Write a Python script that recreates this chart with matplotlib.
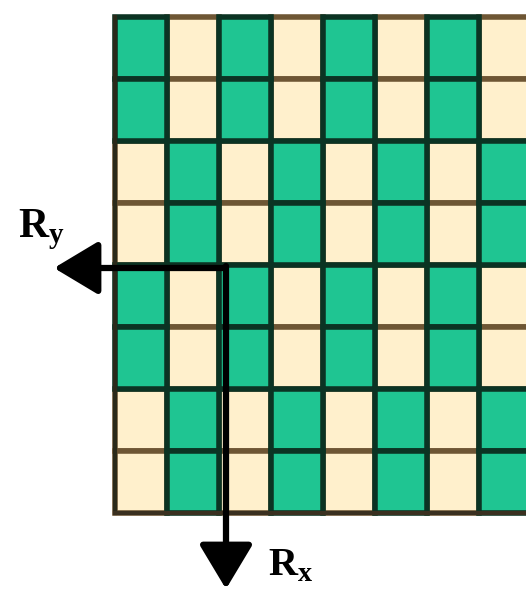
import numpy as np
import matplotlib.pyplot as plt
from matplotlib.patches import Rectangle

# grid pattern: 1 = row starts with green cell, 0 = starts with cream
row_start = [1, 1, 0, 0, 1, 1, 0, 0]
n_cols = 8
green = '#1fc592'
cream = '#fff0cc'
green_edge = '#0b3323'
cream_edge = '#6e5634'

fig = plt.figure(figsize=(5.26, 5.89), dpi=100)
ax = fig.add_axes([0, 0, 1, 1])
ax.set_xlim(0, 526)
ax.set_ylim(589, 0)
ax.axis('off')

x0, y0 = 115, 17
w, h = 52, 62

# cream cells first, green cells on top so their dark borders win
for layer in (0, 1):
    for i, s in enumerate(row_start):
        for j in range(n_cols):
            is_green = (j % 2 == 0) == (s == 1)
            if int(is_green) != layer:
                continue
            ax.add_patch(Rectangle((x0 + j * w, y0 + i * h), w, h,
                                   facecolor=green if is_green else cream,
                                   edgecolor=green_edge if is_green else cream_edge,
                                   lw=4))

# outer left / bottom border
ax.plot([x0, x0], [y0, y0 + 8 * h], color='#2a2a1a', lw=3)
ax.plot([x0, 526], [y0 + 8 * h, y0 + 8 * h], color='#3a3020', lw=3)

# arrows
head = '-|>,head_length=0.5,head_width=0.3'
ax.annotate('', xy=(54, 268), xytext=(224, 268),
            arrowprops=dict(arrowstyle=head, lw=4.5, color='black', mutation_scale=55,
                            shrinkA=0, shrinkB=0))
ax.annotate('', xy=(226, 589), xytext=(226, 266),
            arrowprops=dict(arrowstyle=head, lw=4.5, color='black', mutation_scale=55,
                            shrinkA=0, shrinkB=0))

ax.text(18, 230, r'R$_\mathregular{y}$', fontsize=30, family='Liberation Serif',
        fontweight='bold', ha='left', va='center')
ax.text(268, 566, r'R$_\mathregular{x}$', fontsize=29, family='Liberation Serif',
        fontweight='bold', ha='left', va='center')

plt.savefig('out.png', dpi=100)
